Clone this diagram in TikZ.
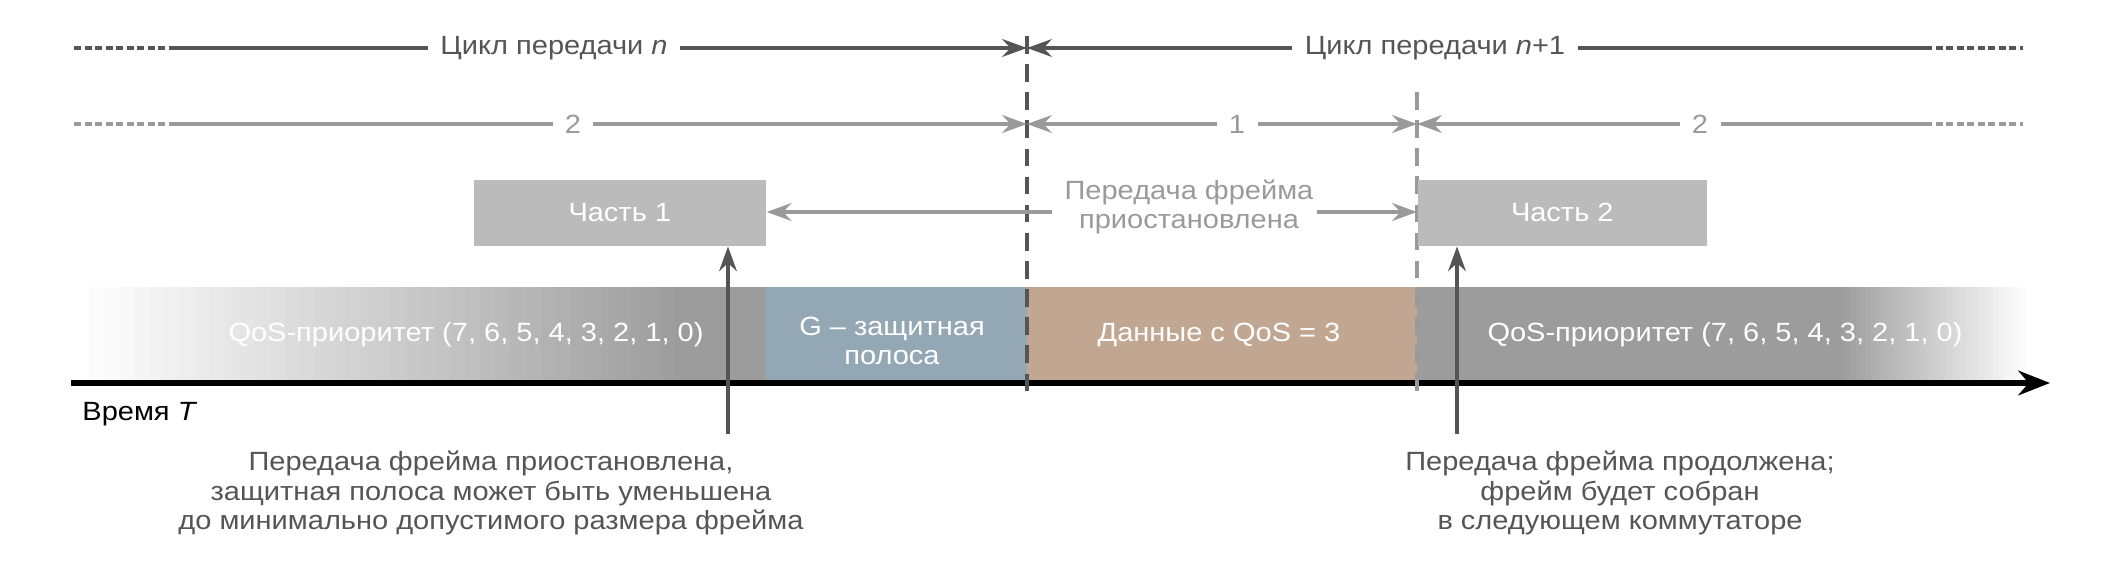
\documentclass[tikz,border=0pt]{standalone}
\usepackage{fontspec}
\setmainfont[FakeStretch=1.1]{Liberation Sans}
\usetikzlibrary{arrows.meta}
\definecolor{darkline}{HTML}{555555}
\definecolor{lightline}{HTML}{9A9A9A}
\definecolor{partgray}{HTML}{BBBBBB}
\definecolor{bandgray}{HTML}{9C9C9C}
\definecolor{guardblue}{HTML}{93A7B5}
\definecolor{dataqos}{HTML}{C1A792}
\tikzset{
  cycline/.style={draw=darkline, line width=1.2pt},
  slotline/.style={draw=lightline, line width=1.2pt},
  dotend/.style={line width=1.2pt, dash pattern=on 2pt off 1pt},
  tip/.style={-{Stealth[length=7pt,width=5pt]}},
  partbox/.style={fill=partgray, minimum width=#1, minimum height=0.66cm, inner sep=0pt, text=white},
  bandtext/.style={text=white, align=center},
  note/.style={text=darkline, align=center},
}
\newcommand*{\SlotLabels}[1]{% #1 = list of x/name/text
  \foreach \x/\name/\text in {#1} {
    \node [text=lightline] (\name) at (\x,124) {\text};
  }%
}
\newcommand*{\FadeBand}[3]{% #1 = start x, #2 = step, #3 = 1 fade in, 0 fade out
  \foreach \i in {0,...,39} {
    \pgfmathsetmacro{\p}{#3==1 ? 2.5*\i : 100-2.5*\i}
    \fill [bandgray!\p!white] ({#1+\i*#2},287) rectangle ({#1+(\i+1)*#2+0.5},381);
  }%
}
\begin{document}
\begin{tikzpicture}[x=0.01cm,y=-0.01cm,font=\fontsize{7.5}{8.4}\selectfont]
  \useasboundingbox (0,0) rectangle (2120,576);

  % band of frames
  \FadeBand{74}{15.05}{1}
  \fill [bandgray] (675,287) rectangle (765,381);
  \fill [guardblue] (765,287) rectangle (1027,381);
  \fill [dataqos] (1027,287) rectangle (1417,381);
  \fill [bandgray] (1417,287) rectangle (1838,381);
  \FadeBand{1837}{4.73}{0}
  \node [bandtext] (qosa) at (466,335) {QoS-приоритет (7, 6, 5, 4, 3, 2, 1, 0)};
  \node [bandtext] (guard) at (892,341) {G – защитная\\полоса};
  \node [bandtext] (data) at (1219,335) {Данные с QoS = 3};
  \node [bandtext] (qosb) at (1725,335) {QoS-приоритет (7, 6, 5, 4, 3, 2, 1, 0)};

  % time axis
  \coordinate (t0) at (71,383);
  \coordinate (t1) at (2050,383);
  \draw [line width=1.5pt, -{Stealth[length=9pt,width=7pt]}] (t0) -- (t1);
  \node [anchor=west] (time) at (70,414) {Время \textit{T}};

  % cycle boundaries
  \coordinate (bA) at (1027,36);
  \coordinate (bA') at (1027,397);
  \coordinate (bB) at (1417,92);
  \coordinate (bB') at (1417,397);
  \draw [darkline, line width=1.4pt, dash pattern=on 5pt off 3pt] (bA) -- (bA');
  \draw [lightline, line width=1.4pt, dash pattern=on 5pt off 3pt] (bB) -- (bB');

  % transmission cycles
  \node [text=darkline] (cycn) at (554,48) {Цикл передачи \textit{n}};
  \node [text=darkline] (cycm) at (1435,48) {Цикл передачи \textit{n}+1};
  \coordinate (ca) at (169,48);
  \coordinate (cz) at (1925,48);
  \draw [cycline, dotend] (74,48) -- (ca);
  \draw [cycline, dotend] (cz) -- (2023,48);
  \draw [cycline] (ca) -- (cycn.west);
  \draw [cycline, tip] (cycn.east) -- (bA |- cycn);
  \draw [cycline, tip] (cycm.west) -- (bA |- cycm);
  \draw [cycline] (cycm.east) -- (cz);

  % time slots
  \SlotLabels{573/sa/2, 1237/sb/1, 1700/sc/2}
  \coordinate (sl) at (169,124);
  \coordinate (sr) at (1925,124);
  \draw [slotline, dotend] (74,124) -- (sl);
  \draw [slotline, dotend] (sr) -- (2023,124);
  \draw [slotline] (sl) -- (sa.west);
  \draw [slotline, tip] (sa.east) -- (bA |- sa);
  \draw [slotline, tip] (sb.west) -- (bA |- sb);
  \draw [slotline, tip] (sb.east) -- (bB |- sb);
  \draw [slotline, tip] (sc.west) -- (bB |- sc);
  \draw [slotline] (sc.east) -- (sr);

  % frame parts
  \node [partbox=2.92cm, anchor=north west] (part1) at (473,179) {Часть 1};
  \node [partbox=2.89cm, anchor=north west] (part2) at (1417,179) {Часть 2};
  \node [text=lightline, align=center] (pause) at (1189,207) {Передача фрейма\\приостановлена};
  \draw [slotline, tip] (pause.west |- 0,212) -- (part1.east |- 0,212);
  \draw [slotline, tip] (1317,212) -- (part2.west |- 0,212);

  % notes
  \node [note] (noteA) at (491,493) {Передача фрейма приостановлена,\\защитная полоса может быть уменьшена\\до минимально допустимого размера фрейма};
  \node [note] (noteB) at (1620,493) {Передача фрейма продолжена;\\фрейм будет собран\\в следующем коммутаторе};
  \draw [darkline, line width=1.4pt, tip] (728,434) -- (part1.south -| 728,0);
  \draw [darkline, line width=1.4pt, tip] (1457,434) -- (part2.south -| 1457,0);
\end{tikzpicture}
\end{document}
